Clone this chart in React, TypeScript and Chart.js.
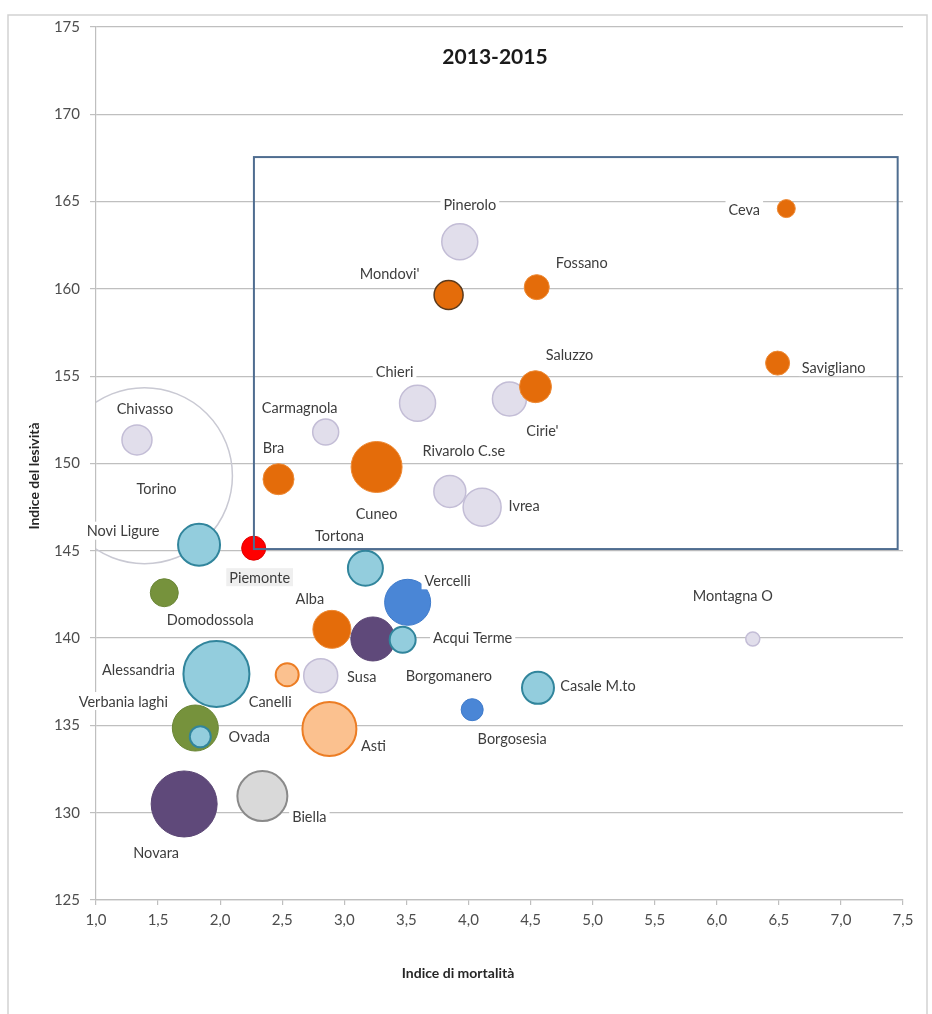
import React, { useEffect, useRef } from "react";
import { Chart, registerables } from "chart.js";

Chart.register(...registerables);

const chartTitle = "2013-2015";
const xTitle = "Indice di mortalità";
const yTitle = "Indice del lesività";

// Drawing order: later entries are drawn on top
const names = [
  "Torino", "Chivasso", "Carmagnola", "Chieri", "Pinerolo", "Rivarolo C.se", "Ivrea", "Cirie'",
  "Montagna O", "Susa", "Cuneo", "Bra", "Mondovi'", "Fossano", "Saluzzo", "Ceva", "Savigliano",
  "Alba", "Canelli", "Asti", "Alessandria", "Novi Ligure", "Tortona", "Casale M.to",
  "Verbania laghi", "Domodossola", "Ovada", "Borgomanero", "Acqui Terme", "Vercelli",
  "Borgosesia", "Novara", "Biella", "Piemonte",
];
const mortality = [
  1.39, 1.33, 2.85, 3.59, 3.93, 3.85, 4.11, 4.33,
  6.29, 2.81, 3.26, 2.47, 3.84, 4.55, 4.54, 6.56, 6.49,
  2.90, 2.54, 2.88, 1.97, 1.83, 3.17, 4.56,
  1.80, 1.55, 1.84, 3.23, 3.47, 3.51,
  4.03, 1.71, 2.34, 2.27,
];
const lesivita = [
  149.3, 151.35, 151.8, 153.45, 162.7, 148.4, 147.5, 153.7,
  139.95, 137.85, 149.8, 149.1, 159.65, 160.1, 154.4, 164.6, 155.75,
  140.5, 137.9, 134.8, 137.95, 145.35, 144.0, 137.15,
  134.85, 142.6, 134.35, 139.95, 139.9, 142.05,
  135.9, 130.5, 130.95, 145.15,
];
const bubbleSize = [
  88, 15, 13, 18, 18, 16, 19, 17,
  7, 17, 25.5, 15.5, 14.5, 12.5, 16, 9, 12,
  19, 11.5, 27, 33, 21, 17.5, 16,
  23, 14, 10.5, 22, 13, 23,
  11, 33, 25, 12,
];
// group of each area (drives colour)
const groups = [
  "torino", "to", "to", "to", "to", "to", "to", "to",
  "to", "to", "cn", "cn", "cnDark", "cn", "cn", "cn", "cn",
  "cn", "at", "at", "al", "al", "al", "al",
  "vco", "vco", "al", "no", "al", "vc",
  "vc", "no", "bi", "pie",
];
// label offsets in pixels relative to the bubble centre
const labelDx = [
  12, 8, -26, -23, 10, 14, 42, 33,
  -20, 41, 0, -5, -59, 45, 34, -42, 56,
  -22, -17, 44, -78, -76, -26, 60,
  -72, 46, 49, 76, 70, 40,
  40, -28, 47, 6,
];
const labelDy = [
  13, -32, -25, -32, -37, -41, -2, 31,
  -44, 1, 46, -32, -22, -25, -32, 1, 4,
  -31, 27, 16, -5, -14, -33, -3,
  -27, 27, 0, 36, -3, -22,
  29, 48, 20, 29,
];

const rectX = [2.272, 7.457];
const rectY = [145.1, 167.55];

const palette: Record<string, { fill: string; border: string; width: number }> = {
  torino: { fill: "rgba(255,255,255,0)", border: "#c9c9d3", width: 1.5 },
  to: { fill: "#e1deeb", border: "#c3bdd6", width: 1.5 },
  cn: { fill: "#e46c0a", border: "#ee8a35", width: 1 },
  cnDark: { fill: "#e46c0a", border: "#5b3a1c", width: 1.5 },
  at: { fill: "#fbc18f", border: "#ec7d24", width: 2 },
  al: { fill: "#93cddd", border: "#31859c", width: 2 },
  vco: { fill: "#76923c", border: "#6a8636", width: 1 },
  no: { fill: "#5f497a", border: "#5a4574", width: 1 },
  vc: { fill: "#4a86d6", border: "#3f7bcb", width: 1 },
  bi: { fill: "#d9d9d9", border: "#8a8a8a", width: 2 },
  pie: { fill: "#ff0000", border: "#e00000", width: 1 },
};

const FONT = "Lato, 'Open Sans', 'DejaVu Sans', sans-serif";
Chart.defaults.font.family = FONT;

const decor = {
  id: "decor",
  beforeDraw(chart: any) {
    const ctx = chart.ctx;
    ctx.save();
    ctx.fillStyle = "#ffffff";
    ctx.fillRect(0, 0, chart.width, chart.height);
    ctx.strokeStyle = "#d2d2d2";
    ctx.lineWidth = 1.5;
    ctx.strokeRect(8, 15, 919, 1030);
    ctx.restore();
  },
  afterDatasetsDraw(chart: any) {
    const ctx = chart.ctx;
    const xs = chart.scales.x;
    const ys = chart.scales.y;
    ctx.save();
    // highlighted rectangle
    ctx.strokeStyle = "#4f6d90";
    ctx.lineWidth = 2;
    const x0 = xs.getPixelForValue(rectX[0]);
    const x1 = xs.getPixelForValue(rectX[1]);
    const y0 = ys.getPixelForValue(rectY[1]);
    const y1 = ys.getPixelForValue(rectY[0]);
    ctx.strokeRect(x0, y0, x1 - x0, y1 - y0);

    // labels
    const meta = chart.getDatasetMeta(0);
    ctx.font = "14.5px " + FONT;
    ctx.textAlign = "center";
    ctx.textBaseline = "middle";
    names.forEach((n, i) => {
      const el = meta.data[i];
      const lx = el.x + labelDx[i];
      const ly = el.y + labelDy[i];
      const w = ctx.measureText(n).width;
      ctx.fillStyle = n === "Piemonte" ? "#efefef" : "#ffffff";
      ctx.fillRect(lx - w / 2 - 3, ly - 9, w + 6, 18);
      ctx.fillStyle = "#3d3d3d";
      ctx.fillText(n, lx, ly + 1);
    });

    // chart title
    ctx.fillStyle = "#1a1a1a";
    ctx.font = "bold 21px " + FONT;
    ctx.fillText(chartTitle, 495, 57);

    // axis titles
    ctx.font = "bold 14px " + FONT;
    ctx.fillStyle = "#262626";
    ctx.fillText(xTitle, 458, 973);
    ctx.translate(34, 476);
    ctx.rotate(-Math.PI / 2);
    ctx.fillText(yTitle, 0, 0);
    ctx.restore();
  },
};

export default function App() {
  const ref = useRef<HTMLCanvasElement>(null);
  useEffect(() => {
    const canvas = ref.current!;
    const chart = new Chart(canvas, {
      type: "bubble",
      data: {
        datasets: [
          {
            data: names.map((_, i) => ({ x: mortality[i], y: lesivita[i], r: bubbleSize[i] })),
            backgroundColor: groups.map((g) => palette[g].fill),
            borderColor: groups.map((g) => palette[g].border),
            borderWidth: groups.map((g) => palette[g].width),
            clip: 0,
          } as any,
        ],
      },
      options: {
        responsive: false,
        animation: false,
        events: [],
        layout: { autoPadding: false, padding: { left: 0, right: 29, top: 27, bottom: 0 } },
        plugins: {
          legend: { display: false },
          tooltip: { enabled: false },
          title: { display: false },
        },
        scales: {
          x: {
            type: "linear",
            min: 1,
            max: 7.5,
            offset: false,
            ticks: {
              stepSize: 0.5,
              padding: 6,
              color: "#4d4d4d",
              font: { size: 15, family: FONT },
              callback: (v: any) => Number(v).toFixed(1).replace(".", ","),
            },
            grid: { drawOnChartArea: false, tickLength: 5, color: "#bfbfbf", lineWidth: 1.2 },
            border: { color: "#bfbfbf", width: 1.2 },
            afterFit: (s: any) => {
              s.height = 114;
            },
          },
          y: {
            type: "linear",
            min: 125,
            max: 175,
            ticks: {
              stepSize: 5,
              padding: 10,
              color: "#4d4d4d",
              font: { size: 15, family: FONT },
            },
            grid: { color: "#bfbfbf", tickLength: 6, lineWidth: 1.2 },
            border: { color: "#bfbfbf", width: 1.2 },
            afterFit: (s: any) => {
              s.width = 96;
            },
          },
        },
      } as any,
      plugins: [decor],
    });
    return () => chart.destroy();
  }, []);
  return (
    <canvas
      ref={ref}
      width={932}
      height={1014}
      style={{ position: "absolute", left: 0, top: 0, display: "block" }}
    />
  );
}
